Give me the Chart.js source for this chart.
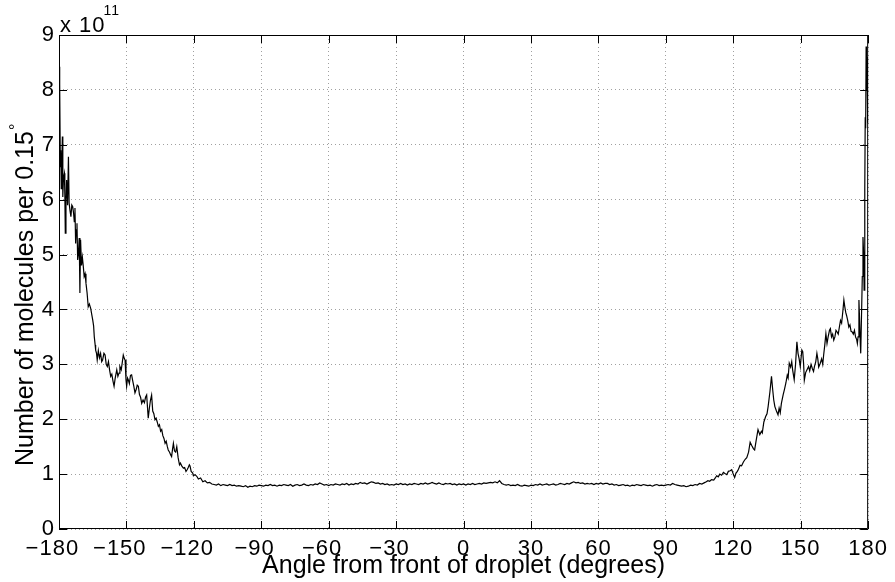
<!DOCTYPE html>
<html>
<head>
<meta charset="utf-8">
<script src="https://cdn.jsdelivr.net/npm/chart.js@4/dist/chart.umd.min.js"></script>
<style>
html,body{margin:0;padding:0;background:#fff;}
#wrap{width:895px;height:582px;position:relative;}
canvas{display:block;}
</style>
</head>
<body>
<div id="wrap"><canvas id="c" width="895" height="582"></canvas></div>
<script>
// ---- data (values in units of 10^11 molecules per 0.15 degree bin) ----
const EXPONENT = 11;
const xTicks = [-180, -150, -120, -90, -60, -30, 0, 30, 60, 90, 120, 150, 180];
const yTicks = [0, 1, 2, 3, 4, 5, 6, 7, 8, 9];

const angleLeft = [
-180,-179.8,-179.6,-179.4,-179.2,-179.0,-178.8,-178.5,-178.3,-178.0,
-177.6,-177.4,-177.2,-176.9,-176.6,-176.2,-175.8,-175.5,-175.1,-174.7,
-174.3,-173.9,-173.5,-173.2,-172.9,-172.6,-172.3,-172.0,-171.7,-171.4,
-171.0,-170.7,-170.4,-170.0,-169.6,-169.2,-168.8,-168.4,-168.0,-167.5,
-167.0,-166.5,-165.9,-165.4,-165.0,-164.6,-164.3,-163.9,-163.7,-163.3,
-163.0,-162.5,-162.0,-161.5,-161.0,-160.6,-160.0,-159.5,-159.0,-158.5,
-158.0,-157.5,-157.0,-156.5,-156.0,-155.5,-155.0,-154.3,-153.8,-153.3,
-152.9,-152.3,-151.8,-151.4,-150.9,-150.6,-150.2,-149.9,-149.5,-149.2,
-148.7,-148.2,-147.7,-147.2,-146.7,-146.2,-145.6,-145.2,-144.7,-144.2,
-143.7,-143.2,-142.6,-142.0,-141.5,-141.0,-140.6,-140.3,-139.8,-139.3,
-138.8,-138.3,-137.8,-137.3,-136.8,-136.3,-135.8,-135.3,-134.8,-134.3,
-133.8,-133.3,-132.8,-132.3,-131.8,-131.4,-130.8,-130.3,-129.9,-129.5,
-129.1,-128.6,-128.1,-127.6,-127.0,-126.4,-126.0,-125.4,-124.7,-124.1,
-123.5,-123.0,-122.5,-122.0,-121.7,-121.2,-120.5,-120.2,-119.5,-118.7,
-118.0,-117.0,-116.0,-115.0,-114.0,-113.0,-112.0
];
const countLeft = [
8.42,7.60,8.10,6.60,6.90,6.20,6.50,7.15,6.05,6.40,
6.48,6.10,5.39,6.00,6.36,5.90,6.78,5.94,5.80,5.69,
5.90,5.87,5.75,5.60,5.85,5.20,5.45,5.57,4.90,5.00,
5.30,4.30,5.27,4.80,4.95,4.79,4.60,4.65,4.48,4.30,
4.05,4.10,4.02,3.90,3.81,3.70,3.50,3.35,3.26,3.20,
3.08,3.25,3.12,3.20,3.05,3.08,3.20,3.17,3.00,2.96,
3.05,2.90,2.78,2.82,2.70,2.60,2.75,2.90,2.78,2.84,
2.96,2.90,3.05,3.17,3.10,3.08,2.72,2.60,2.75,2.72,
2.65,2.80,2.81,2.70,2.60,2.48,2.55,2.62,2.60,2.45,
2.40,2.29,2.35,2.30,2.40,2.44,2.20,2.02,2.20,2.35,
2.44,2.15,2.10,1.99,2.02,1.95,1.87,1.90,1.78,1.81,
1.70,1.65,1.56,1.60,1.50,1.44,1.40,1.35,1.32,1.45,
1.56,1.42,1.40,1.50,1.30,1.17,1.20,1.15,1.11,1.12,
1.05,1.08,1.12,1.17,1.15,1.05,1.02,0.97,0.99,0.96,
0.91,0.93,0.86,0.88,0.84,0.85,0.82
];

// flat middle part, one value per degree from -111 to 107
const angleMidStart = -111;
const countMid = [
0.81,0.80,0.82,0.79,0.81,0.80,0.79,0.81,0.79,0.80,0.78,0.79,       // -111..-100
0.78,0.77,0.79,0.76,0.78,0.77,0.79,0.78,0.80,0.79,                 // -99..-90
0.78,0.80,0.79,0.81,0.79,0.80,0.78,0.80,0.79,0.81,                 // -89..-80
0.80,0.79,0.81,0.78,0.80,0.81,0.79,0.80,0.82,0.80,                 // -79..-70
0.79,0.81,0.80,0.82,0.81,0.84,0.82,0.80,0.81,0.79,                 // -69..-60
0.81,0.80,0.82,0.81,0.80,0.82,0.81,0.83,0.80,0.82,                 // -59..-50
0.81,0.83,0.82,0.85,0.83,0.84,0.82,0.84,0.86,0.85,                 // -49..-40
0.83,0.84,0.82,0.83,0.81,0.82,0.80,0.81,0.80,0.82,                 // -39..-30
0.81,0.83,0.81,0.82,0.80,0.82,0.81,0.83,0.82,0.81,                 // -29..-20
0.83,0.82,0.84,0.82,0.83,0.85,0.83,0.82,0.84,0.82,                 // -19..-10
0.81,0.83,0.82,0.83,0.81,0.82,0.80,0.82,0.81,0.82,                 // -9..0
0.80,0.82,0.81,0.83,0.81,0.82,0.83,0.82,0.84,0.83,                 // 1..10
0.84,0.85,0.84,0.86,0.84,0.88,0.83,0.81,0.80,0.81,                 // 11..20
0.79,0.80,0.79,0.81,0.79,0.78,0.80,0.79,0.78,0.80,                 // 21..30
0.79,0.81,0.80,0.82,0.80,0.81,0.82,0.80,0.81,0.82,                 // 31..40
0.80,0.81,0.83,0.82,0.81,0.83,0.82,0.84,0.86,0.84,                 // 41..50
0.85,0.83,0.84,0.82,0.83,0.82,0.83,0.81,0.83,0.82,                 // 51..60
0.84,0.82,0.83,0.83,0.81,0.82,0.80,0.81,0.79,0.80,                 // 61..70
0.81,0.79,0.80,0.78,0.80,0.79,0.81,0.80,0.79,0.81,                 // 71..80
0.80,0.79,0.80,0.78,0.80,0.81,0.79,0.80,0.79,0.80,                 // 81..90
0.81,0.80,0.83,0.81,0.80,0.79,0.78,0.79,0.77,0.78,                 // 91..100
0.80,0.79,0.81,0.80,0.83,0.82,0.84                                 // 101..107
];

const angleRight = [
108.0,108.7,109.5,110.3,111.3,112.0,112.6,113.3,114.0,114.8,
115.6,116.3,117.1,117.8,118.6,119.3,120.0,120.6,121.2,121.8,
122.3,123.0,123.7,124.5,125.3,126.0,126.8,127.5,128.2,129.0,
129.5,130.2,131.0,131.8,132.5,132.9,133.6,134.4,135.0,135.5,
136.3,137.0,137.5,138.0,138.5,139.2,139.9,140.4,140.9,141.4,
142.2,142.8,143.4,144.0,144.4,144.9,145.5,146.0,146.4,147.1,
147.7,148.3,148.8,149.3,149.8,150.5,150.9,151.3,151.6,152.2,
152.8,153.5,154.0,154.6,155.2,155.7,156.1,156.7,157.2,157.6,
158.0,158.7,159.3,159.8,160.2,160.7,161.2,161.7,162.2,162.8,
163.2,163.7,164.2,164.7,165.2,165.7,166.2,166.7,167.2,167.7,
168.2,168.7,169.2,169.6,170.0,170.4,170.9,171.4,171.9,172.4,
172.9,173.4,173.9,174.4,174.9,175.2,175.5,175.9,176.2,176.5,
176.7,177.1,177.4,177.7,178.0,178.2,178.5,178.7,178.9,179.1,
179.3,179.5,179.7,179.9,180.0
];
const countRight = [
0.86,0.88,0.87,0.90,0.89,0.93,0.97,0.95,1.00,0.98,
1.03,1.01,0.99,1.05,1.06,1.08,1.00,0.94,1.02,1.05,
1.09,1.16,1.15,1.22,1.27,1.30,1.40,1.58,1.52,1.46,
1.44,1.62,1.81,1.72,1.78,1.75,1.95,2.05,2.10,2.23,
2.50,2.78,2.55,2.35,2.23,2.15,2.08,2.20,2.12,2.29,
2.45,2.55,2.66,2.80,2.75,3.02,2.95,3.05,2.90,2.72,
3.00,3.41,3.20,3.10,2.96,3.26,3.23,3.00,2.71,2.85,
2.90,2.96,2.88,3.00,2.92,2.87,2.96,3.05,3.20,3.10,
2.95,3.02,3.10,3.00,3.17,3.35,3.56,3.38,3.50,3.62,
3.65,3.50,3.55,3.44,3.50,3.62,3.59,3.55,3.68,3.80,
3.75,3.95,4.17,4.05,3.95,3.89,3.80,3.68,3.72,3.60,
3.59,3.55,3.62,3.50,3.45,3.38,3.50,4.17,3.80,3.40,
3.20,3.99,4.60,5.32,5.00,4.35,6.20,7.50,7.30,8.79,
8.00,8.60,7.40,7.80,7.40
];

// ---- build the series ----
const points = [];
angleLeft.forEach((a, i) => points.push({x: a, y: countLeft[i]}));
countMid.forEach((v, i) => points.push({x: angleMidStart + i, y: v}));
angleRight.forEach((a, i) => points.push({x: a, y: countRight[i]}));

const FONT = "'Liberation Sans', Arial, Helvetica, sans-serif";
const TICK_FS = 22;
const TITLE_FS = 25;
const TICK_SPACING = '1px';
// MATLAB-style: digits centred on the tick, minus sign hanging to the left
const fmt = v => (v < 0 ? '\u2212' + Math.abs(v) + '\u2007' : String(v));

const spacingPlugin = {
  id: 'spacing',
  beforeLayout(chart) { chart.ctx.letterSpacing = TICK_SPACING; },
  beforeDraw(chart) { chart.ctx.letterSpacing = TICK_SPACING; }
};

const matlabFrame = {
  id: 'matlabFrame',
  afterDraw(chart) {
    const {ctx, chartArea: a, scales: {x, y}} = chart;
    ctx.save();
    ctx.strokeStyle = '#000';
    ctx.lineWidth = 1;
    const T = 8;
    ctx.beginPath();
    ctx.rect(a.left + 0.5, a.top + 0.5, a.right - a.left - 1, a.bottom - a.top - 1);
    xTicks.forEach(t => {
      const px = Math.round(x.getPixelForValue(t)) + 0.5;
      ctx.moveTo(px, a.bottom); ctx.lineTo(px, a.bottom - T);
      ctx.moveTo(px, a.top); ctx.lineTo(px, a.top + T);
    });
    yTicks.forEach(t => {
      const py = Math.round(y.getPixelForValue(t)) + 0.5;
      ctx.moveTo(a.left, py); ctx.lineTo(a.left + T, py);
      ctx.moveTo(a.right, py); ctx.lineTo(a.right - T, py);
    });
    ctx.stroke();

    ctx.fillStyle = '#000';
    ctx.textBaseline = 'alphabetic';
    ctx.textAlign = 'left';
    // exponent label
    ctx.letterSpacing = TICK_SPACING;
    ctx.font = TICK_FS + 'px ' + FONT;
    ctx.fillText('x 10', a.left + 1, a.top - 3);
    const w = ctx.measureText('x 10').width;
    ctx.font = '14px ' + FONT;
    ctx.fillText(String(EXPONENT), a.left + w - 1, a.top - 20);

    // axis titles
    ctx.letterSpacing = '0px';
    ctx.font = TITLE_FS + 'px ' + FONT;
    ctx.textAlign = 'center';
    ctx.fillText('Angle from front of droplet (degrees)', (a.left + a.right) / 2, 573);

    ctx.save();
    ctx.translate(33, 466);
    ctx.rotate(-Math.PI / 2);
    ctx.textAlign = 'left';
    const t1 = 'Number of molecules per 0.15';
    const tw = ctx.measureText(t1).width;
    ctx.fillText(t1, 0, 0);
    ctx.font = '16px ' + FONT;
    ctx.fillText('\u00B0', tw + 1, -12);
    ctx.restore();
    ctx.restore();
  }
};

new Chart(document.getElementById('c'), {
  type: 'line',
  data: {
    datasets: [{
      data: points,
      borderColor: '#000',
      borderWidth: 1.2,
      pointRadius: 0,
      tension: 0,
      fill: false
    }]
  },
  options: {
    responsive: false,
    animation: false,
    devicePixelRatio: 1,
    layout: {padding: {top: 35, right: 26, left: 0, bottom: 0}},
    plugins: {legend: {display: false}, tooltip: {enabled: false}},
    scales: {
      x: {
        type: 'linear', min: -180, max: 180,
        afterBuildTicks: s => { s.ticks = xTicks.map(v => ({value: v})); },
        afterFit: s => { s.height = 53; },
        grid: {color: '#a0a0a0', lineWidth: 1, drawTicks: false},
        border: {display: false, dash: [1, 3]},
        ticks: {
          font: {family: FONT, size: TICK_FS}, color: '#000', padding: 7,
          maxRotation: 0, autoSkip: false,
          callback: v => fmt(v)
        }
      },
      y: {
        type: 'linear', min: 0, max: 9,
        afterBuildTicks: s => { s.ticks = yTicks.map(v => ({value: v})); },
        afterFit: s => { s.width = 59; },
        grid: {color: '#a0a0a0', lineWidth: 1, drawTicks: false},
        border: {display: false, dash: [1, 3]},
        ticks: {
          font: {family: FONT, size: TICK_FS}, color: '#000', padding: 4,
          callback: v => fmt(v)
        }
      }
    }
  },
  plugins: [spacingPlugin, matlabFrame]
});
</script>
</body>
</html>
